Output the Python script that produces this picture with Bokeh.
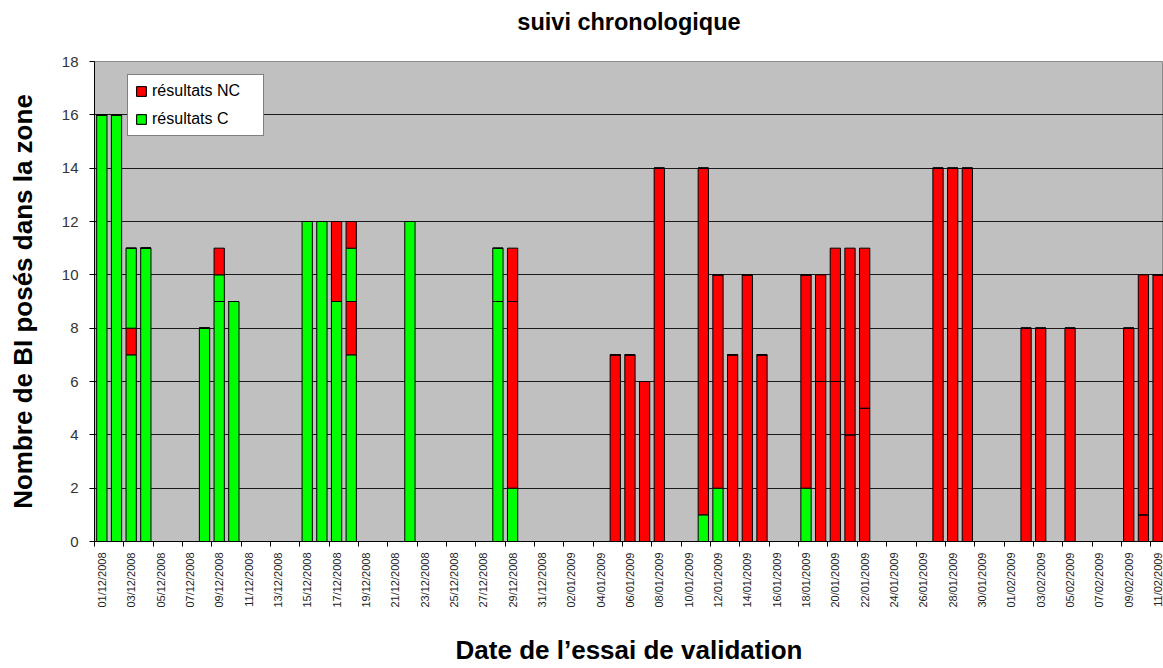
import math
import pandas as pd
from bokeh.plotting import figure
from bokeh.models import (ColumnDataSource, FixedTicker, Range1d, Legend, LegendItem, Title)
from bokeh.embed import file_html
from bokeh.resources import INLINE

# ---- data ----
first_day = "2008-12-01"
last_day = "2009-02-11"

dates = ["01/12/2008", "02/12/2008", "03/12/2008", "04/12/2008", "08/12/2008",
         "09/12/2008", "10/12/2008", "15/12/2008", "16/12/2008", "17/12/2008",
         "18/12/2008", "22/12/2008", "28/12/2008", "29/12/2008", "05/01/2009",
         "06/01/2009", "07/01/2009", "08/01/2009", "11/01/2009", "12/01/2009",
         "13/01/2009", "14/01/2009", "15/01/2009", "18/01/2009", "19/01/2009",
         "20/01/2009", "21/01/2009", "22/01/2009", "27/01/2009", "28/01/2009",
         "29/01/2009", "02/02/2009", "03/02/2009", "05/02/2009", "09/02/2009",
         "10/02/2009", "11/02/2009"]
# first batch of BI (C then NC), second batch (C then NC)
c1 = [16, 16, 7, 11, 8, 9, 9, 12, 12, 9, 7, 12, 9, 2, 0, 0, 0, 0, 1, 2,
      0, 0, 0, 2, 0, 0, 0, 0, 0, 0, 0, 0, 0, 0, 0, 0, 0]
nc1 = [0, 0, 1, 0, 0, 0, 0, 0, 0, 3, 2, 0, 0, 7, 7, 7, 6, 14, 13, 8,
       7, 10, 7, 8, 6, 6, 4, 5, 14, 14, 14, 8, 8, 8, 8, 1, 10]
c2 = [0, 0, 3, 0, 0, 1, 0, 0, 0, 0, 2, 0, 2, 0, 0, 0, 0, 0, 0, 0,
      0, 0, 0, 0, 0, 0, 0, 0, 0, 0, 0, 0, 0, 0, 0, 0, 0]
nc2 = [0, 0, 0, 0, 0, 1, 0, 0, 0, 0, 1, 0, 0, 2, 0, 0, 0, 0, 0, 0,
       0, 0, 0, 0, 4, 5, 7, 6, 0, 0, 0, 0, 0, 0, 0, 9, 0]

y_ticks = [0, 2, 4, 6, 8, 10, 12, 14, 16, 18]
title_text = "suivi chronologique"

# ---- categories (one per calendar day) ----
all_days = [d.strftime("%d/%m/%Y") for d in pd.date_range(first_day, last_day, freq="D")]
xpos = [all_days.index(d) for d in dates]
tick_labels = all_days[::2]
tick_pos = list(range(0, len(all_days), 2))

src = ColumnDataSource(dict(x=xpos, c1=c1, nc1=nc1, c2=c2, nc2=nc2))

FONT = "Liberation Sans"
GREEN = "#00FF00"
RED = "#FF0000"

p = figure(width=1163, height=668, output_backend="svg", toolbar_location=None,
           x_range=Range1d(-0.5, 72.37), y_range=Range1d(0, 18),
           min_border_left=94, min_border_right=0, min_border_top=61,
           min_border_bottom=127, title=None,
           background_fill_color="#C0C0C0", border_fill_color="white")

rs = p.vbar_stack(["c1", "nc1", "c2", "nc2"], x="x", width=0.7, source=src,
                  color=[GREEN, RED, GREEN, RED], line_color="black", line_width=1)
for r, col in zip(rs, [GREEN, RED, GREEN, RED]):
    r.glyph.fill_color = col
    r.glyph.line_color = "black"

# title: an empty spacer panel next to the frame, then the real title above it
spacer = Title(text=" ", text_font=FONT, text_font_size="10px", standoff=12)
p.add_layout(spacer, "above")
main_title = Title(text=title_text, text_font=FONT, text_font_size="23.5px",
                   text_font_style="bold", align="center", vertical_align="top",
                   text_color="black", standoff=0)
p.add_layout(main_title, "above")

# grid
p.xgrid.grid_line_color = None
p.ygrid.ticker = FixedTicker(ticks=y_ticks[1:-1])
p.ygrid.grid_line_color = "#1a1a1a"
p.ygrid.grid_line_width = 1
p.outline_line_color = "#8a8a8a"

# y axis
p.yaxis.ticker = FixedTicker(ticks=y_ticks)
p.yaxis.axis_line_color = "black"
p.yaxis.major_tick_out = 5
p.yaxis.major_tick_in = 0
p.yaxis.minor_tick_line_color = None
p.yaxis.major_label_standoff = 11
p.yaxis.major_label_text_font = FONT
p.yaxis.major_label_text_font_size = "15px"
p.yaxis.major_label_text_color = "#333333"
p.yaxis.axis_label = "Nombre de BI posés dans la zone"
p.yaxis.axis_label_text_font = FONT
p.yaxis.axis_label_text_font_size = "26px"
p.yaxis.axis_label_text_font_style = "bold"
p.yaxis.axis_label_text_color = "black"
p.yaxis.axis_label_standoff = 21

# x axis
p.xaxis.ticker = FixedTicker(ticks=tick_pos,
                             minor_ticks=[t - 0.5 for t in tick_pos])
p.xaxis.major_label_overrides = {t: l for t, l in zip(tick_pos, tick_labels)}
p.xaxis.axis_line_color = "black"
p.xaxis.major_tick_line_color = None
p.xaxis.major_tick_out = 0
p.xaxis.major_tick_in = 0
p.xaxis.minor_tick_line_color = "black"
p.xaxis.minor_tick_out = 5
p.xaxis.minor_tick_in = 0
p.xaxis.major_label_orientation = math.pi / 2
p.xaxis.major_label_standoff = 6
p.xaxis.major_label_text_font = FONT
p.xaxis.major_label_text_font_size = "11px"
p.xaxis.major_label_text_color = "#222222"
p.xaxis.axis_label = "Date de l\u2019essai de validation"
p.xaxis.axis_label_text_font = FONT
p.xaxis.axis_label_text_font_size = "26px"
p.xaxis.axis_label_text_font_style = "bold"
p.xaxis.axis_label_text_color = "black"
p.xaxis.axis_label_standoff = 24

# legend
legend = Legend(items=[LegendItem(label="résultats NC", renderers=[rs[1], rs[3]]),
                       LegendItem(label="résultats C", renderers=[rs[0], rs[2]])],
                location=(33, 405), margin=0, padding=7, spacing=10,
                label_height=18, label_width=104, glyph_height=12, glyph_width=12,
                label_standoff=5, label_text_font=FONT, label_text_font_size="16px",
                label_text_color="black", border_line_color="black",
                border_line_width=1, background_fill_color="white",
                background_fill_alpha=1.0)
p.add_layout(legend, "center")

open("out.html", "w").write(file_html(p, INLINE))
